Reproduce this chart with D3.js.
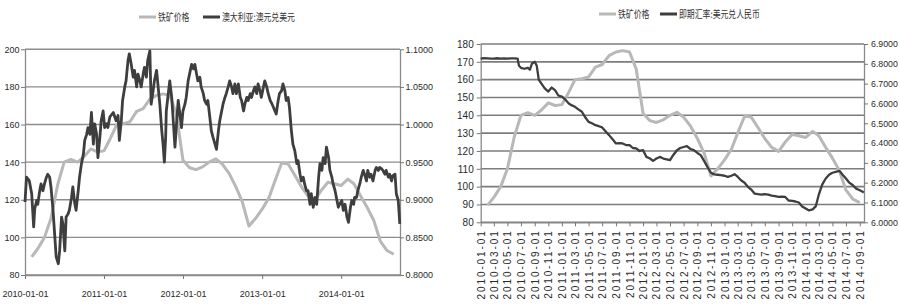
<!DOCTYPE html>
<html>
<head>
<meta charset="utf-8">
<script src="https://cdn.jsdelivr.net/npm/d3@7"></script>
<style>
  body { margin: 0; background: #fff; }
  svg { display: block; font-family: "Liberation Sans", Arial, sans-serif; }
</style>
</head>
<body>
<svg id="chart" width="900" height="304"></svg>
<script>
// monthly iron ore price (both panels)
const ironOre = [
  ["2010-02-01", 89.6], ["2010-03-01", 94], ["2010-04-01", 100], ["2010-05-01", 110],
  ["2010-06-01", 128], ["2010-07-01", 140], ["2010-08-01", 141.5], ["2010-09-01", 140],
  ["2010-10-01", 143], ["2010-11-01", 147], ["2010-12-01", 145.5], ["2011-01-01", 146],
  ["2011-02-01", 153], ["2011-03-01", 160], ["2011-04-01", 160.5], ["2011-05-01", 161.5],
  ["2011-06-01", 167], ["2011-07-01", 168.5], ["2011-08-01", 173.5], ["2011-09-01", 175.5],
  ["2011-10-01", 176.3], ["2011-11-01", 175.5], ["2011-12-01", 166], ["2012-01-01", 141],
  ["2012-02-01", 137], ["2012-03-01", 136], ["2012-04-01", 137.5], ["2012-05-01", 140],
  ["2012-06-01", 141.7], ["2012-07-01", 139], ["2012-08-01", 134], ["2012-09-01", 127],
  ["2012-10-01", 119], ["2012-11-01", 106], ["2012-12-01", 110], ["2013-01-01", 115],
  ["2013-02-01", 121], ["2013-03-01", 130], ["2013-04-01", 139.5], ["2013-05-01", 139],
  ["2013-06-01", 133], ["2013-07-01", 127], ["2013-08-01", 122], ["2013-09-01", 119.8],
  ["2013-10-01", 125], ["2013-11-01", 129.3], ["2013-12-01", 128.5], ["2014-01-01", 127.6],
  ["2014-02-01", 131], ["2014-03-01", 128.5], ["2014-04-01", 122], ["2014-05-01", 116],
  ["2014-06-01", 109], ["2014-07-01", 98], ["2014-08-01", 93], ["2014-09-01", 91],
];

// AUD/USD
const audUsd = [
  ["2010-01-01", 0.897], ["2010-01-08", 0.930], ["2010-01-21", 0.925], ["2010-02-01", 0.908],
  ["2010-02-10", 0.864], ["2010-02-15", 0.888], ["2010-02-24", 0.899], ["2010-03-01", 0.894],
  ["2010-03-10", 0.912], ["2010-03-16", 0.921], ["2010-03-25", 0.912], ["2010-04-01", 0.921],
  ["2010-04-10", 0.930], ["2010-04-16", 0.934], ["2010-04-25", 0.930], ["2010-05-01", 0.917],
  ["2010-05-10", 0.888], ["2010-05-19", 0.850], ["2010-05-25", 0.824], ["2010-06-04", 0.815],
  ["2010-06-10", 0.832], ["2010-06-19", 0.877], ["2010-06-25", 0.868], ["2010-07-04", 0.832],
  ["2010-07-10", 0.877], ["2010-07-19", 0.881], ["2010-07-25", 0.886], ["2010-08-04", 0.903],
  ["2010-08-10", 0.917], ["2010-08-19", 0.895], ["2010-08-25", 0.886], ["2010-09-04", 0.912],
  ["2010-09-10", 0.930], ["2010-09-19", 0.948], ["2010-09-28", 0.961], ["2010-10-04", 0.979],
  ["2010-10-13", 0.987], ["2010-10-19", 0.996], ["2010-10-28", 0.987], ["2010-11-04", 1.016],
  ["2010-11-13", 0.974], ["2010-11-19", 1.001], ["2010-11-28", 0.987], ["2010-12-04", 0.956],
  ["2010-12-13", 0.983], ["2010-12-19", 1.005], ["2010-12-28", 1.018], ["2011-01-04", 0.996],
  ["2011-01-13", 1.001], ["2011-01-19", 0.996], ["2011-01-28", 1.010], ["2011-02-13", 1.016],
  ["2011-02-26", 1.005], ["2011-03-07", 1.012], ["2011-03-13", 0.979], ["2011-03-22", 1.005],
  ["2011-03-28", 1.032], ["2011-04-07", 1.050], ["2011-04-13", 1.058], ["2011-04-22", 1.085],
  ["2011-04-28", 1.094], ["2011-05-07", 1.080], ["2011-05-16", 1.063], ["2011-05-22", 1.072],
  ["2011-06-01", 1.050], ["2011-06-07", 1.067], ["2011-06-16", 1.058], ["2011-06-22", 1.050],
  ["2011-07-01", 1.067], ["2011-07-07", 1.076], ["2011-07-16", 1.063], ["2011-07-22", 1.085],
  ["2011-08-01", 1.098], ["2011-08-07", 1.027], ["2011-08-16", 1.045], ["2011-08-22", 1.058],
  ["2011-09-01", 1.072], ["2011-09-07", 1.054], ["2011-09-16", 1.027], ["2011-09-25", 0.992],
  ["2011-10-01", 0.974], ["2011-10-07", 0.950], ["2011-10-13", 0.983], ["2011-10-16", 1.018],
  ["2011-10-25", 1.041], ["2011-11-01", 1.058], ["2011-11-10", 1.036], ["2011-11-16", 1.010],
  ["2011-11-25", 0.970], ["2011-12-01", 0.996], ["2011-12-10", 1.032], ["2011-12-16", 1.018],
  ["2011-12-25", 0.996], ["2012-01-01", 1.018], ["2012-01-10", 1.027], ["2012-01-16", 1.036],
  ["2012-01-25", 1.058], ["2012-02-04", 1.072], ["2012-02-10", 1.080], ["2012-02-19", 1.074],
  ["2012-02-25", 1.080], ["2012-03-04", 1.067], ["2012-03-10", 1.058], ["2012-03-19", 1.063],
  ["2012-03-25", 1.050], ["2012-04-04", 1.041], ["2012-04-10", 1.032], ["2012-04-19", 1.027],
  ["2012-04-25", 1.032], ["2012-05-04", 1.010], ["2012-05-11", 0.992], ["2012-05-19", 0.983],
  ["2012-05-28", 0.974], ["2012-06-04", 0.967], ["2012-06-13", 0.992], ["2012-06-19", 1.005],
  ["2012-06-28", 1.018], ["2012-07-04", 1.027], ["2012-07-13", 1.036], ["2012-07-19", 1.041],
  ["2012-07-28", 1.050], ["2012-08-04", 1.058], ["2012-08-13", 1.050], ["2012-08-19", 1.041],
  ["2012-08-28", 1.054], ["2012-09-04", 1.041], ["2012-09-13", 1.054], ["2012-09-22", 1.036],
  ["2012-09-28", 1.032], ["2012-10-07", 1.018], ["2012-10-13", 1.027], ["2012-10-22", 1.036],
  ["2012-10-28", 1.032], ["2012-11-07", 1.041], ["2012-11-13", 1.036], ["2012-11-22", 1.045],
  ["2012-11-28", 1.050], ["2012-12-07", 1.041], ["2012-12-13", 1.054], ["2012-12-22", 1.045],
  ["2012-12-28", 1.036], ["2013-01-07", 1.050], ["2013-01-13", 1.058], ["2013-01-22", 1.050],
  ["2013-01-29", 1.041], ["2013-02-07", 1.032], ["2013-02-16", 1.027], ["2013-02-22", 1.023],
  ["2013-03-01", 1.018], ["2013-03-07", 1.014], ["2013-03-16", 1.032], ["2013-03-22", 1.041],
  ["2013-04-01", 1.045], ["2013-04-07", 1.054], ["2013-04-16", 1.045], ["2013-04-22", 1.032],
  ["2013-05-01", 1.036], ["2013-05-07", 1.023], ["2013-05-16", 0.992], ["2013-05-23", 0.974],
  ["2013-06-01", 0.965], ["2013-06-10", 0.948], ["2013-06-16", 0.952], ["2013-06-25", 0.934],
  ["2013-07-01", 0.925], ["2013-07-10", 0.930], ["2013-07-16", 0.921], ["2013-07-25", 0.912],
  ["2013-08-01", 0.912], ["2013-08-10", 0.894], ["2013-08-16", 0.908], ["2013-08-25", 0.890],
  ["2013-09-02", 0.903], ["2013-09-10", 0.894], ["2013-09-19", 0.930], ["2013-09-25", 0.948],
  ["2013-10-04", 0.939], ["2013-10-10", 0.956], ["2013-10-19", 0.948], ["2013-10-25", 0.970],
  ["2013-11-04", 0.956], ["2013-11-10", 0.939], ["2013-11-19", 0.930], ["2013-11-25", 0.921],
  ["2013-12-04", 0.912], ["2013-12-10", 0.903], ["2013-12-19", 0.890], ["2013-12-25", 0.894],
  ["2014-01-04", 0.899], ["2014-01-11", 0.886], ["2014-01-19", 0.894], ["2014-01-28", 0.877],
  ["2014-02-04", 0.870], ["2014-02-13", 0.890], ["2014-02-19", 0.899], ["2014-02-28", 0.894],
  ["2014-03-04", 0.903], ["2014-03-13", 0.903], ["2014-03-19", 0.912], ["2014-03-28", 0.921],
  ["2014-04-04", 0.930], ["2014-04-13", 0.939], ["2014-04-19", 0.934], ["2014-04-28", 0.925],
  ["2014-05-04", 0.939], ["2014-05-13", 0.930], ["2014-05-19", 0.934], ["2014-05-28", 0.925],
  ["2014-06-07", 0.939], ["2014-06-13", 0.943], ["2014-06-22", 0.939], ["2014-06-28", 0.943],
  ["2014-07-07", 0.941], ["2014-07-13", 0.939], ["2014-07-22", 0.934], ["2014-07-28", 0.939],
  ["2014-08-07", 0.930], ["2014-08-13", 0.934], ["2014-08-22", 0.925], ["2014-08-28", 0.932],
  ["2014-09-07", 0.934], ["2014-09-13", 0.908], ["2014-09-22", 0.899], ["2014-09-29", 0.868],
];

// USD/CNY spot
const usdCny = [
  ["2010-01-01", 6.826], ["2010-01-16", 6.828], ["2010-02-01", 6.827], ["2010-02-16", 6.826],
  ["2010-03-01", 6.826], ["2010-03-16", 6.828], ["2010-04-01", 6.826], ["2010-04-16", 6.827],
  ["2010-05-01", 6.826], ["2010-05-16", 6.827], ["2010-06-01", 6.827], ["2010-06-16", 6.826],
  ["2010-06-22", 6.79], ["2010-07-01", 6.78], ["2010-07-16", 6.775], ["2010-08-01", 6.78],
  ["2010-08-10", 6.77], ["2010-08-19", 6.80], ["2010-09-01", 6.81], ["2010-09-10", 6.79],
  ["2010-09-19", 6.72], ["2010-10-01", 6.70], ["2010-10-16", 6.676], ["2010-11-01", 6.66],
  ["2010-11-16", 6.68], ["2010-12-01", 6.667], ["2010-12-16", 6.64], ["2011-01-01", 6.634],
  ["2011-01-16", 6.62], ["2011-02-01", 6.60], ["2011-02-15", 6.59], ["2011-03-01", 6.583],
  ["2011-03-16", 6.57], ["2011-04-01", 6.558], ["2011-04-16", 6.53], ["2011-05-01", 6.507],
  ["2011-05-16", 6.50], ["2011-06-01", 6.49], ["2011-06-16", 6.485], ["2011-07-01", 6.479],
  ["2011-07-16", 6.46], ["2011-08-01", 6.44], ["2011-08-16", 6.42], ["2011-09-01", 6.398],
  ["2011-09-16", 6.40], ["2011-10-01", 6.398], ["2011-10-16", 6.39], ["2011-11-01", 6.39],
  ["2011-11-16", 6.375], ["2011-12-01", 6.373], ["2011-12-16", 6.36], ["2012-01-01", 6.364],
  ["2012-01-16", 6.33], ["2012-02-01", 6.322], ["2012-02-15", 6.31], ["2012-03-01", 6.322],
  ["2012-03-16", 6.33], ["2012-04-01", 6.322], ["2012-04-16", 6.318], ["2012-05-01", 6.314],
  ["2012-05-16", 6.34], ["2012-06-01", 6.364], ["2012-06-16", 6.375], ["2012-07-01", 6.38],
  ["2012-07-16", 6.385], ["2012-08-01", 6.37], ["2012-08-16", 6.364], ["2012-09-01", 6.35],
  ["2012-09-16", 6.339], ["2012-10-01", 6.31], ["2012-10-16", 6.28], ["2012-11-01", 6.25],
  ["2012-11-16", 6.242], ["2012-12-01", 6.24], ["2012-12-16", 6.238], ["2013-01-01", 6.235],
  ["2013-01-16", 6.229], ["2013-02-01", 6.235], ["2013-02-15", 6.243], ["2013-03-01", 6.23],
  ["2013-03-16", 6.212], ["2013-04-01", 6.20], ["2013-04-16", 6.179], ["2013-05-01", 6.165],
  ["2013-05-16", 6.145], ["2013-06-01", 6.142], ["2013-06-16", 6.14], ["2013-07-01", 6.142],
  ["2013-07-16", 6.14], ["2013-08-01", 6.135], ["2013-08-16", 6.132], ["2013-09-01", 6.128],
  ["2013-09-16", 6.13], ["2013-10-01", 6.128], ["2013-10-16", 6.11], ["2013-11-01", 6.108],
  ["2013-11-16", 6.105], ["2013-12-01", 6.10], ["2013-12-16", 6.08], ["2014-01-01", 6.07],
  ["2014-01-16", 6.06], ["2014-02-01", 6.065], ["2014-02-15", 6.08], ["2014-03-01", 6.14],
  ["2014-03-16", 6.19], ["2014-04-01", 6.221], ["2014-04-16", 6.24], ["2014-05-01", 6.25],
  ["2014-05-16", 6.255], ["2014-06-01", 6.26], ["2014-06-16", 6.24], ["2014-07-01", 6.221],
  ["2014-07-16", 6.20], ["2014-08-01", 6.187], ["2014-08-16", 6.17], ["2014-09-01", 6.162],
  ["2014-09-12", 6.155], ["2014-09-19", 6.15],
];

const oreTicksA = [80, 100, 120, 140, 160, 180, 200];
const audTicks = [0.80, 0.85, 0.90, 0.95, 1.00, 1.05, 1.10];
const oreTicksB = [80, 90, 100, 110, 120, 130, 140, 150, 160, 170, 180];
const cnyTicks = [6.0, 6.1, 6.2, 6.3, 6.4, 6.5, 6.6, 6.7, 6.8, 6.9];
const yearTicks = ["2010-01-01", "2011-01-01", "2012-01-01", "2013-01-01", "2014-01-01"];
const monthTicks = [
  "2010-01-01", "2010-03-01", "2010-05-01", "2010-07-01", "2010-09-01", "2010-11-01",
  "2011-01-01", "2011-03-01", "2011-05-01", "2011-07-01", "2011-09-01", "2011-11-01",
  "2012-01-01", "2012-03-01", "2012-05-01", "2012-07-01", "2012-09-01", "2012-11-01",
  "2013-01-01", "2013-03-01", "2013-05-01", "2013-07-01", "2013-09-01", "2013-11-01",
  "2014-01-01", "2014-03-01", "2014-05-01", "2014-07-01", "2014-09-01",
];
const legendA = ["铁矿价格", "澳大利亚:澳元兑美元"];
const legendB = ["铁矿价格", "即期汇率:美元兑人民币"];

const oreColor = "#b8b8b8";
const fxColor = "#3e3e3e";
const parse = d3.timeParse("%Y-%m-%d");
const fmtDate = d3.timeFormat("%Y-%m-%d");
const svg = d3.select("#chart");

const drawPanel = (cfg) => {
  const { x0, x1, y0, y1 } = cfg.box;
  const x = d3.scaleTime().domain(cfg.xDomain.map(parse)).range([x0, x1]);
  const yL = d3.scaleLinear().domain(d3.extent(cfg.leftTicks)).range([y1, y0]);
  const yR = d3.scaleLinear().domain(d3.extent(cfg.rightTicks)).range([y1, y0]);
  const g = svg.append("g");

  g.append("g")
    .selectAll("line")
    .data(cfg.leftTicks)
    .join("line")
    .attr("x1", x0)
    .attr("x2", x1)
    .attr("y1", (d) => yL(d))
    .attr("y2", (d) => yL(d))
    .attr("stroke", cfg.grid)
    .attr("stroke-width", cfg.gridWidth);

  const axisL = g.append("g")
    .attr("transform", `translate(${x0},0)`)
    .call(d3.axisLeft(yL).tickValues(cfg.leftTicks).tickFormat(d3.format("d"))
      .tickSize(4).tickPadding(cfg.padY).tickSizeOuter(0));

  const axisR = g.append("g")
    .attr("transform", `translate(${x1},0)`)
    .call(d3.axisRight(yR).tickValues(cfg.rightTicks).tickFormat(d3.format(".4f"))
      .tickSize(4).tickPadding(cfg.padY).tickSizeOuter(0));

  const axisB = g.append("g")
    .attr("transform", `translate(0,${y1})`)
    .call(d3.axisBottom(x).tickValues(cfg.xTicks.map(parse)).tickFormat(fmtDate)
      .tickSize(4).tickPadding(cfg.padX).tickSizeOuter(0));

  for (const ax of [axisL, axisR, axisB]) {
    ax.select(".domain").attr("stroke", "#8a8a8a").attr("stroke-width", 1.3);
    ax.selectAll(".tick line").attr("stroke", "#777");
    ax.selectAll("text")
      .attr("fill", "#2a2a2a")
      .attr("font-size", cfg.fontSize)
      .attr("font-family", "'Liberation Sans', Arial, sans-serif");
  }
  axisR.selectAll("text").attr("font-size", cfg.fontSizeR);

  if (cfg.rotate)
    axisB.selectAll("text")
      .attr("transform", "rotate(-90)")
      .attr("text-anchor", "end")
      .attr("x", -7)
      .attr("y", 0)
      .attr("dy", "0.35em")
      .attr("letter-spacing", 1.9);

  const lineL = d3.line().x((d) => x(parse(d[0]))).y((d) => yL(d[1]));
  const lineR = d3.line().x((d) => x(parse(d[0]))).y((d) => yR(d[1]));

  g.append("path")
    .attr("d", lineL(ironOre))
    .attr("fill", "none")
    .attr("stroke", oreColor)
    .attr("stroke-width", 3)
    .attr("stroke-linejoin", "round");

  g.append("path")
    .attr("d", lineR(cfg.fx))
    .attr("fill", "none")
    .attr("stroke", fxColor)
    .attr("stroke-width", cfg.fxWidth)
    .attr("stroke-linejoin", "round");

  // legend
  cfg.legend.forEach((label, i) => {
    const lx = cfg.legendX[i];
    g.append("line")
      .attr("x1", lx).attr("x2", lx + 17)
      .attr("y1", cfg.legendY).attr("y2", cfg.legendY)
      .attr("stroke", i ? fxColor : oreColor)
      .attr("stroke-width", 3);
    g.append("text")
      .attr("transform", `translate(${lx + 19},${cfg.legendY}) scale(0.75,1)`)
      .attr("dy", "0.36em")
      .attr("font-family", "'Noto Sans CJK SC', sans-serif")
      .attr("font-size", 10.5)
      .attr("fill", "#333")
      .text(label);
  });
};

drawPanel({
  box: { x0: 25, x1: 400, y0: 49.3, y1: 275 },
  xDomain: ["2010-01-01", "2014-09-30"],
  xTicks: yearTicks,
  leftTicks: oreTicksA,
  rightTicks: audTicks,
  fx: audUsd,
  fxWidth: 2.8,
  grid: "#8c8c8c",
  gridWidth: 1.4,
  fontSize: 9,
  fontSizeR: 9,
  padY: 1.5,
  padX: 12,
  rotate: false,
  legend: legendA,
  legendX: [139, 203],
  legendY: 17,
});

drawPanel({
  box: { x0: 480.7, x1: 864, y0: 44, y1: 222.3 },
  xDomain: ["2010-01-01", "2014-09-20"],
  xTicks: monthTicks,
  leftTicks: oreTicksB,
  rightTicks: cnyTicks,
  fx: usdCny,
  fxWidth: 2.3,
  grid: "#7c7c7c",
  gridWidth: 1.6,
  fontSize: 10,
  fontSizeR: 8.8,
  padY: 3,
  padX: 3,
  rotate: true,
  legend: legendB,
  legendX: [599, 660],
  legendY: 14,
});
</script>
</body>
</html>
